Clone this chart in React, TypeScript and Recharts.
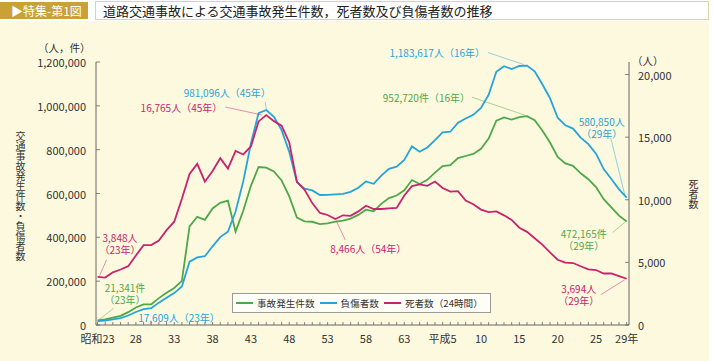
import React from 'react';
import { LineChart, Line, XAxis, YAxis, ReferenceDot } from 'recharts';

// 昭和23年(1948) 〜 平成29年(2017)
const accidents = [
  21341, 25113, 33212, 41423, 58487, 80019, 93869, 93981, 122691, 146833,
  168799, 201292, 449917, 493693, 479825, 531966, 557183, 567286, 425944, 521481,
  635056, 720880, 718080, 700290, 659283, 586713, 490452, 472938, 471041, 460649,
  464037, 471573, 476677, 485578, 502261, 526362, 518642, 552788, 579190, 590723,
  614481, 661363, 643097, 662392, 695346, 724678, 729461, 761794, 771085, 780401,
  803882, 850371, 931950, 947253, 936950, 948281, 952720, 934346, 887267, 832704,
  766394, 737637, 725924, 692084, 665157, 629033, 573842, 536899, 499201, 472165,
];

const injured = [
  17609, 20242, 25450, 31274, 43321, 59280, 72390, 76501, 102072, 124530,
  145432, 175951, 289156, 308697, 313813, 359089, 401117, 425666, 517775, 655377,
  828071, 967000, 981096, 949689, 889198, 789948, 651420, 622467, 613957, 593211,
  594116, 596282, 598719, 607346, 626192, 654822, 644321, 681346, 712330, 722179,
  752845, 814832, 790295, 810245, 844003, 878633, 881723, 922677, 942204, 958925,
  990675, 1050399, 1155707, 1181039, 1168029, 1181681, 1183617, 1157113, 1098564, 1034652,
  945703, 911215, 896297, 854613, 825396, 781494, 711374, 666023, 618853, 580850,
];

const deaths = [
  3848, 3790, 4202, 4429, 4696, 5544, 6374, 6379, 6751, 7575,
  8248, 10079, 12055, 12865, 11445, 12301, 13318, 12484, 13904, 13618,
  14256, 16257, 16765, 16278, 15918, 14574, 11432, 10792, 9734, 8945,
  8783, 8466, 8760, 8719, 9073, 9520, 9262, 9261, 9317, 9347,
  10344, 11086, 11227, 11109, 11452, 10942, 10649, 10684, 9943, 9642,
  9214, 9012, 9073, 8757, 8396, 7768, 7436, 6927, 6415, 5796,
  5209, 4979, 4948, 4691, 4438, 4388, 4113, 4117, 3904, 3694,
];

const labelIndex = [0, 5, 10, 15, 20, 25, 30, 35, 40, 45, 50, 55, 60, 65, 69];
const labelText = ['昭和23', '28', '33', '38', '43', '48', '53', '58', '63', '平成5', '10', '15', '20', '25', '29年'];

const leftTicks = [0, 200000, 400000, 600000, 800000, 1000000, 1200000];
const rightTicks = [0, 5000, 10000, 15000, 20000];

const GREEN = '#4ea84a';
const BLUE = '#27a3dc';
const MAGENTA = '#c8236f';
const FONT = '"Noto Sans CJK JP", "Noto Sans", sans-serif';

const data = accidents.map((a, i) => ({
  i,
  accidents: a,
  injured: injured[i],
  deaths: deaths[i],
}));

const series = [
  { key: 'accidents', name: '事故発生件数', color: GREEN, axis: 'left' },
  { key: 'injured', name: '負傷者数', color: BLUE, axis: 'left' },
  { key: 'deaths', name: '死者数（24時間）', color: MAGENTA, axis: 'right' },
];

const seriesValues: Record<string, number[]> = { accidents, injured, deaths };

// callouts: which point, text, and where the text/leader sit relative to it
const notes = [
  { key: 'injured', i: 56, lines: ['1,183,617人（16年）'], anchor: 'end', tx: -42, ty: -13.5, leader: [-39, -13, -3, -1] },
  { key: 'accidents', i: 56, lines: ['952,720件（16年）'], anchor: 'end', tx: -57, ty: -19, leader: [-55, -19, -2, -1] },
  { key: 'injured', i: 69, lines: ['580,850人', '（29年）'], anchor: 'middle', tx: -25, ty: -77, leader: [-16, -60, -2, -3] },
  { key: 'accidents', i: 69, lines: ['472,165件', '（29年）'], anchor: 'middle', tx: -43, ty: 11.5, leader: [-14, 11, -2, 1] },
  { key: 'deaths', i: 69, lines: ['3,694人', '（29年）'], anchor: 'middle', tx: -48, ty: 9, leader: [-26, 16, -2, 1] },
  { key: 'injured', i: 22, lines: ['981,096人（45年）'], anchor: 'middle', tx: -39, ty: -18, leader: [-1, -8, 0, -1] },
  { key: 'deaths', i: 22, lines: ['16,765人（45年）'], anchor: 'end', tx: -44, ty: -8, leader: [-41, -8, -4, 0] },
  { key: 'deaths', i: 31, lines: ['8,466人（54年）'], anchor: 'middle', tx: 33, ty: 29, leader: [1, 2, 10, 21] },
  { key: 'deaths', i: 0, lines: ['3,848人', '（23年）'], anchor: 'middle', tx: 22.5, ty: -40, leader: [9, -17, 2, -1] },
  { key: 'accidents', i: 0, lines: ['21,341件', '（23年）'], anchor: 'middle', tx: 27.5, ty: -33.5, leader: [16, -12, 2, -1] },
  { key: 'injured', i: 0, lines: ['17,609人（23年）'], anchor: 'middle', tx: 81.5, ty: -4.5, leader: null },
];

function XTick({ x, y, payload }: any) {
  const k = labelIndex.indexOf(payload.value);
  return (
    <g>
      <line x1={x} y1={y} x2={x} y2={y - 3} stroke="#666" strokeWidth={0.8} />
      {k >= 0 && (
        <text x={x} y={y + 13} textAnchor="middle" dominantBaseline="central" fontSize={11} fill="#333" fontFamily={FONT}>
          {labelText[k]}
        </text>
      )}
    </g>
  );
}

function LeftTick({ x, y, payload }: any) {
  return (
    <g>
      <line x1={x} y1={y} x2={x + 4} y2={y} stroke="#666" strokeWidth={0.8} />
      <text x={x - 10} y={y} textAnchor="end" dominantBaseline="central" fontSize={11} fill="#333" fontFamily={FONT}>
        {payload.value.toLocaleString('en-US')}
      </text>
    </g>
  );
}

function RightTick({ x, y, payload }: any) {
  return (
    <g>
      <line x1={x} y1={y} x2={x - 4} y2={y} stroke="#666" strokeWidth={0.8} />
      <text x={x + 9} y={y} textAnchor="start" dominantBaseline="central" fontSize={11} fill="#333" fontFamily={FONT}>
        {payload.value.toLocaleString('en-US')}
      </text>
    </g>
  );
}

function noteShape(n: any, color: string) {
  return (props: any) => {
    const { cx, cy } = props;
    return (
      <g>
        {n.leader && (
          <line
            x1={cx + n.leader[0]}
            y1={cy + n.leader[1]}
            x2={cx + n.leader[2]}
            y2={cy + n.leader[3]}
            stroke={color}
            strokeOpacity={0.55}
            strokeWidth={0.9}
          />
        )}
        <text
          x={cx + n.tx}
          y={cy + n.ty}
          textAnchor={n.anchor}
          dominantBaseline="central"
          fontSize={10}
          fill={color}
          fontFamily={FONT}
        >
          {n.lines.map((t: string, j: number) => (
            <tspan key={j} x={cx + n.tx} dy={j === 0 ? 0 : 12}>
              {t}
            </tspan>
          ))}
        </text>
      </g>
    );
  };
}

export default function App() {
  const allTicks = data.map((d) => d.i);
  return (
    <div style={{ position: 'absolute', left: 0, top: 0, width: 713, height: 361, background: '#ffffff', fontFamily: FONT, overflow: 'hidden' }}>
      <div style={{ position: 'absolute', left: 0, top: 21, width: 709, height: 340, background: '#fdf9de' }} />
      <div style={{ position: 'absolute', left: 0, top: 2, width: 88, height: 17, background: '#c9a135', color: '#fff', fontSize: 12, lineHeight: '17px', paddingLeft: 11, boxSizing: 'border-box', whiteSpace: 'nowrap' }}>
        ▶特集-第1図
      </div>
      <div style={{ position: 'absolute', left: 95, top: 1, width: 614, height: 19, border: '1px solid #ddd3a8', boxSizing: 'border-box', background: '#fff', color: '#222', fontSize: 13, lineHeight: '17px', paddingLeft: 7, whiteSpace: 'nowrap' }}>
        道路交通事故による交通事故発生件数，死者数及び負傷者数の推移
      </div>

      <div style={{ position: 'absolute', left: 38, top: 42, fontSize: 10.5, lineHeight: '12px', color: '#333', whiteSpace: 'nowrap' }}>（人，件）</div>
      <div style={{ position: 'absolute', left: 14, top: 131, fontSize: 10, color: '#333', writingMode: 'vertical-rl', lineHeight: '12px' }}>
        交通事故発生件数・負傷者数
      </div>
      <div style={{ position: 'absolute', left: 632, top: 55, fontSize: 10.5, lineHeight: '12px', color: '#333', whiteSpace: 'nowrap' }}>（人）</div>
      <div style={{ position: 'absolute', left: 687, top: 179, fontSize: 10, color: '#333', writingMode: 'vertical-rl', lineHeight: '12px' }}>
        死者数
      </div>

      <div style={{ position: 'absolute', left: 0, top: 0 }}>
        <LineChart width={713} height={361} data={data} margin={{ top: 62, right: 24, bottom: 6, left: 36 }}>
          <XAxis
            dataKey="i"
            type="number"
            domain={[-0.2, 69.3]}
            ticks={allTicks}
            interval={0}
            tickSize={0}
            tickMargin={0}
            tickLine={false}
            axisLine={{ stroke: '#666', strokeWidth: 1 }}
            tick={<XTick />}
            height={30}
          />
          <YAxis
            yAxisId="left"
            domain={[0, 1200000]}
            ticks={leftTicks}
            interval={0}
            tickSize={0}
            tickMargin={0}
            tickLine={false}
            axisLine={{ stroke: '#666', strokeWidth: 1 }}
            tick={<LeftTick />}
            width={60}
          />
          <YAxis
            yAxisId="right"
            orientation="right"
            domain={[0, 21000]}
            ticks={rightTicks}
            interval={0}
            tickSize={0}
            tickMargin={0}
            tickLine={false}
            axisLine={{ stroke: '#666', strokeWidth: 1 }}
            tick={<RightTick />}
            width={60}
          />
          {series.map((s) => (
            <Line
              key={s.key}
              yAxisId={s.axis}
              type="linear"
              dataKey={s.key}
              stroke={s.color}
              strokeWidth={1.8}
              dot={false}
              isAnimationActive={false}
            />
          ))}
          {notes.map((n, k) => {
            const s = series.find((q) => q.key === n.key)!;
            return (
              <ReferenceDot
                key={k}
                yAxisId={s.axis}
                x={n.i}
                y={seriesValues[n.key][n.i]}
                r={0}
                shape={noteShape(n, s.color)}
              />
            );
          })}
        </LineChart>
      </div>

      <div style={{ position: 'absolute', left: 232, top: 293, width: 259, height: 20, border: '1px solid #9a9a9a', boxSizing: 'border-box', background: '#fffef6', display: 'flex', alignItems: 'center', fontSize: 9.6, lineHeight: '12px', color: '#333', paddingLeft: 3, whiteSpace: 'nowrap' }}>
        {series.map((s) => (
          <div key={s.key} style={{ display: 'flex', alignItems: 'center', marginRight: 5 }}>
            <div style={{ width: 17, height: 2, background: s.color, marginRight: 4 }} />
            <span>{s.name}</span>
          </div>
        ))}
      </div>
    </div>
  );
}
